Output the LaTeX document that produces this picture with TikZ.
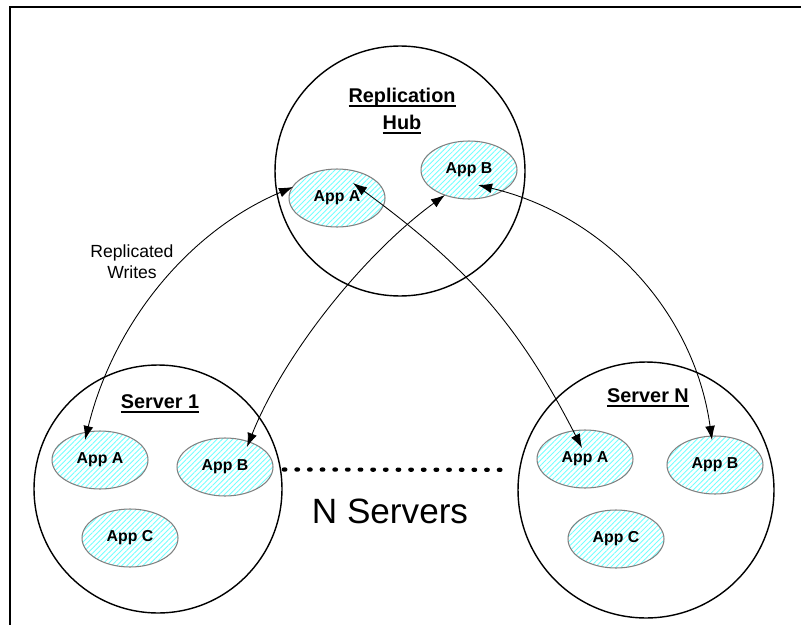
\documentclass[tikz,border=0pt]{standalone}
\usepackage{fontspec}
\setmainfont{Liberation Sans}
\usepackage{tikz}
\newcommand{\titleul}[1]{\setbox0\hbox{#1}\rlap{\rule[-2.6pt]{\wd0}{1pt}}\box0}
\usetikzlibrary{shapes.geometric,patterns.meta,arrows.meta}

\begin{document}
\begin{tikzpicture}[x=0.02cm,y=-0.02cm,
  server/.style={circle,draw,line width=0.8pt,inner sep=0pt},
  app/.style={ellipse,draw=gray,line width=0.6pt,inner sep=0pt,
    minimum width=1.92cm,minimum height=1.16cm,
    pattern={Lines[angle=45,distance=2.1pt,line width=0.5pt]},pattern color=cyan!55,
    font=\fontsize{9}{10}\selectfont\bfseries},
  title/.style={align=center,font=\fontsize{11.3}{15.3}\selectfont\bfseries},
  repl/.style={{Latex[length=8pt,width=5.6pt]}-{Latex[length=8pt,width=5.6pt]},line width=0.5pt},
  dots/.style={line width=2.4pt,line cap=round,dash pattern=on 0.9pt off 6.3pt}]
\useasboundingbox (0,0) rectangle (801,625);
\draw[line width=1.1pt] (10,625) -- (10,7) -- (801,7);

% hub and servers
\node[server,minimum size=5cm] (hub) at (400,171) {};
\node[server,minimum size=4.96cm] (srvone) at (158,489) {};
\node[server,minimum size=5.12cm] (srvn) at (646,490) {};

\node[title] (hubtitle) at (402,111) {\titleul{Replication}\\\titleul{Hub}};
\node[title] (onetitle) at (160,404) {\titleul{Server 1}};
\node[title] (ntitle) at (648,398) {\titleul{Server N}};

% applications
\node[app] (hubA) at (337,198) {App A};
\node[app] (hubB) at (469,170) {App B};
\node[app] (oneA) at (100,460) {App A};
\node[app] (oneB) at (225,467) {App B};
\node[app] (oneC) at (130,538) {App C};
\node[app] (nA) at (585,459) {App A};
\node[app] (nB) at (715,465) {App B};
\node[app] (nC) at (616,539) {App C};

\draw[dots,shorten <=1.5pt,shorten >=5pt] (srvone.9) -- (srvn.171);
\node[font=\fontsize{20}{24}\selectfont] (nservers) at (390,511) {N Servers};
\node[align=center,font=\fontsize{10}{12}\selectfont] (writes) at (132,262) {Replicated\\Writes};

% replicated writes
\draw[repl] ([shift={(-15,-20)}]oneA.center) .. controls +(28,-115) and +(-106,45) .. ([shift={(-44,-11)}]hubA.center);
\draw[repl] ([shift={(22,-20)}]oneB.center) .. controls +(37,-93) and +(-81,59) .. ([shift={(-24,25)}]hubB.center);
\draw[repl] ([shift={(16,-15)}]hubA.center) .. controls +(113,83) and +(-64,-125) .. ([shift={(-3,-11)}]nA.center);
\draw[repl] ([shift={(9,15)}]hubB.center) .. controls +(126,30) and +(-18,-129) .. ([shift={(-3,-25)}]nB.center);
\end{tikzpicture}
\end{document}
